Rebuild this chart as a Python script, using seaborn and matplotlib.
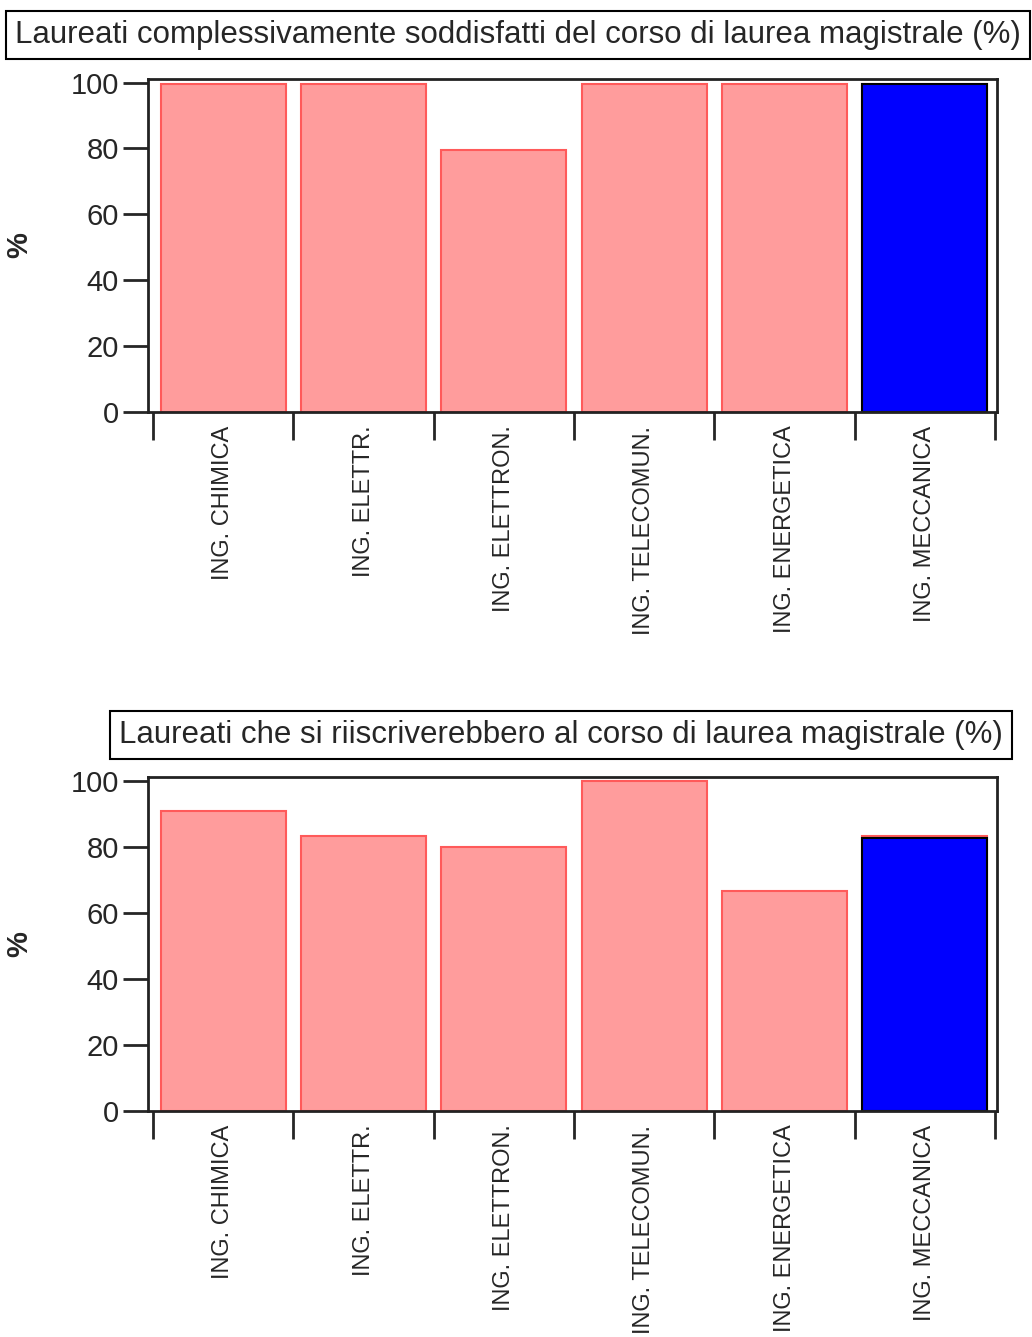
import matplotlib
matplotlib.use("Agg")
import matplotlib.pyplot as plt
import seaborn as sns
import pandas as pd
import numpy as np

categories = ["ING. CHIMICA", "ING. ELETTR.", "ING. ELETTRON.", "ING. TELECOMUN.",
              "ING. ENERGETICA", "ING. MECCANICA"]
highlight = "ING. MECCANICA"

soddisfatti = [99.6, 99.6, 79.6, 99.6, 99.6, 99.6]
soddisfatti_mecc = 99.6
riiscritti = [90.9, 83.3, 80, 100, 66.7, 83.3]
riiscritti_mecc = 82.6

titles = ["Laureati complessivamente soddisfatti del corso di laurea magistrale (%)",
          "Laureati che si riiscriverebbero al corso di laurea magistrale (%)"]
yticks = [0, 20, 40, 60, 80, 100]

sns.set_style("ticks")
plt.rcParams["font.family"] = ["Liberation Sans", "DejaVu Sans"]

W, H = 1032, 1337
fig = plt.figure(figsize=(W / 100, H / 100), dpi=100)

panels = [
    (soddisfatti, soddisfatti_mecc, titles[0], 79, 411.7, (518, 35)),
    (riiscritti, riiscritti_mecc, titles[1], 777, 1110.7, (561, 735)),
]

for vals, mecc, title, top_px, bot_px, tpos in panels:
    ax = fig.add_axes([148 / W, 1 - bot_px / H, 849 / W, (bot_px - top_px) / H])
    df = pd.DataFrame({"corso": categories, "valore": vals})
    sns.barplot(data=df, x="corso", y="valore", order=categories, ax=ax,
                color="#ff9c9c", edgecolor="#ff5a5a", linewidth=1.5,
                width=0.89, saturation=1)
    dm = pd.DataFrame({"corso": [highlight], "valore": [mecc]})
    sns.barplot(data=dm, x="corso", y="valore", order=categories, ax=ax,
                color="#0000ff", edgecolor="black", linewidth=1.5,
                width=0.89, saturation=1)

    ax.set_xlim(-0.536, 5.514)
    ax.set_ylim(0, 101.1)
    ax.set_yticks(yticks)
    ax.tick_params(axis="y", length=18, width=2, labelsize=21, pad=3)
    ax.set_xticks(range(len(categories)))
    ax.set_xticklabels(categories, rotation=90, va="top", ha="center", fontsize=17)
    ax.tick_params(axis="x", length=0, pad=10)
    ax.set_xticks(np.arange(-0.5, len(categories), 1), minor=True)
    ax.tick_params(axis="x", which="minor", length=20, width=2)
    for s in ax.spines.values():
        s.set_visible(True)
        s.set_linewidth(2)
        s.set_color("#222222")
    ax.set_xlabel("")
    ax.set_ylabel("%", fontsize=21, fontweight="bold")
    ax.yaxis.set_label_coords(-0.135, 0.5)

    fig.text(tpos[0] / W, 1 - tpos[1] / H, title, ha="center", va="center",
             fontsize=22.5,
             bbox=dict(boxstyle="square,pad=0.3", fc="white", ec="black", lw=1.5))

fig.savefig("out.png", dpi=100)
